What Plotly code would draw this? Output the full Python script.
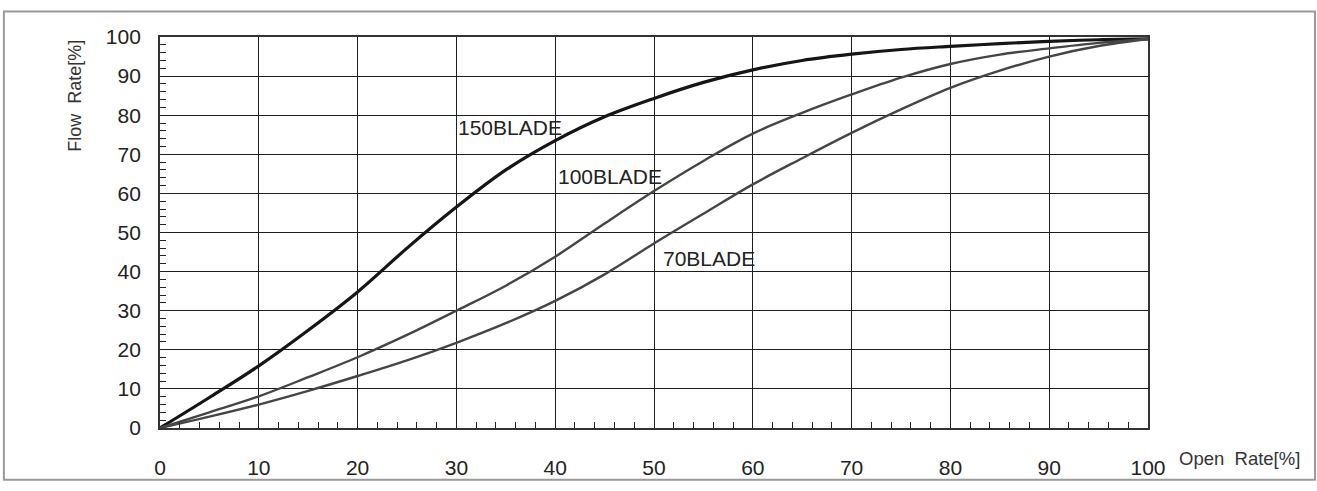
import plotly.graph_objects as go

# Open rate [%] vs flow rate [%]
open_rate = [0, 5, 10, 15, 20, 25, 30, 35, 40, 45, 50, 55, 60, 65, 70, 75, 80, 85, 90, 95, 100]
flow_150 = [0, 7.8, 15.9, 25, 34.8, 46, 56.5, 66, 73.5, 79.6, 84.3, 88.4, 91.6, 94, 95.6, 96.8, 97.6, 98.3, 98.9, 99.3, 99.5]
flow_100 = [0, 4, 8.1, 13, 18.1, 23.8, 30, 36.4, 43.8, 52.3, 60.6, 68.3, 75.3, 80.6, 85.3, 89.6, 93.1, 95.5, 97.1, 98.5, 99.5]
flow_70 = [0, 2.9, 6, 9.5, 13.3, 17.3, 21.8, 26.8, 32.5, 39.3, 47.2, 54.8, 62.3, 69, 75.5, 81.5, 87, 91.4, 95, 97.7, 99.5]

series_names = ["150BLADE", "100BLADE", "70BLADE"]
x_ticks = list(range(0, 101, 10))
y_ticks = list(range(0, 101, 10))

FONT = "Liberation Sans, Arial, sans-serif"
TXT = "#222222"

fig = go.Figure()
fig.add_trace(go.Scatter(x=open_rate, y=flow_150, mode="lines", name=series_names[0],
                         line=dict(color="#151515", width=3.2, shape="spline", smoothing=1.0)))
fig.add_trace(go.Scatter(x=open_rate, y=flow_100, mode="lines", name=series_names[1],
                         line=dict(color="#454545", width=2.4, shape="spline", smoothing=1.0)))
fig.add_trace(go.Scatter(x=open_rate, y=flow_70, mode="lines", name=series_names[2],
                         line=dict(color="#454545", width=2.4, shape="spline", smoothing=1.0)))

axis_common = dict(
    showgrid=True, gridcolor="#1e1e1e", gridwidth=1.3,
    showline=True, linecolor="#333333", linewidth=1.8, mirror=True,
    zeroline=False, ticks="inside", ticklen=0, tickcolor="#222",
    tickfont=dict(family=FONT, size=21, color=TXT),
    fixedrange=True,
)

fig.update_xaxes(range=[0, 100], tickvals=x_ticks, ticktext=[str(v) for v in x_ticks],
                 minor=dict(dtick=2, tick0=0, ticks="inside", ticklen=6, tickwidth=1.2,
                            tickcolor="#222", showgrid=False),
                 ticklabelstandoff=20, **axis_common)
fig.update_yaxes(range=[0, 100], tickvals=y_ticks, ticktext=[str(v) for v in y_ticks],
                 minor=dict(dtick=2, tick0=0, ticks="inside", ticklen=6, tickwidth=1.2,
                            tickcolor="#222", showgrid=False),
                 ticklabelstandoff=13, **axis_common)

label_pos = {"150BLADE": (30.0, 76.9), "100BLADE": (40.1, 64.2), "70BLADE": (50.7, 43.4)}
for name in series_names:
    lx, ly = label_pos[name]
    fig.add_annotation(x=lx, y=ly, xref="x", yref="y", text=name, showarrow=False,
                       xanchor="left", yanchor="middle",
                       font=dict(family=FONT, size=21, color=TXT))

fig.add_annotation(x=-0.086, y=0.85, xref="paper", yref="paper", text="Flow  Rate[%]",
                   textangle=-90, showarrow=False, xanchor="center", yanchor="middle",
                   font=dict(family=FONT, size=18, color="#333"))
fig.add_annotation(x=1.029, y=-0.0775, xref="paper", yref="paper", text="Open  Rate[%]",
                   showarrow=False, xanchor="left", yanchor="middle",
                   font=dict(family=FONT, size=18.5, color="#333"))

fig.add_shape(type="rect", xref="paper", yref="paper",
              x0=-0.158, x1=1.169, y0=-0.1325, y1=1.065,
              line=dict(color="#9a9a9a", width=2), fillcolor="rgba(0,0,0,0)", layer="above")

fig.update_layout(
    width=1317, height=491,
    margin=dict(l=160, r=169, t=37, b=54),
    paper_bgcolor="white", plot_bgcolor="white",
    showlegend=False,
)

fig.write_html("out.html", config={"displayModeBar": False},
               post_script="document.body.style.margin='0';")
